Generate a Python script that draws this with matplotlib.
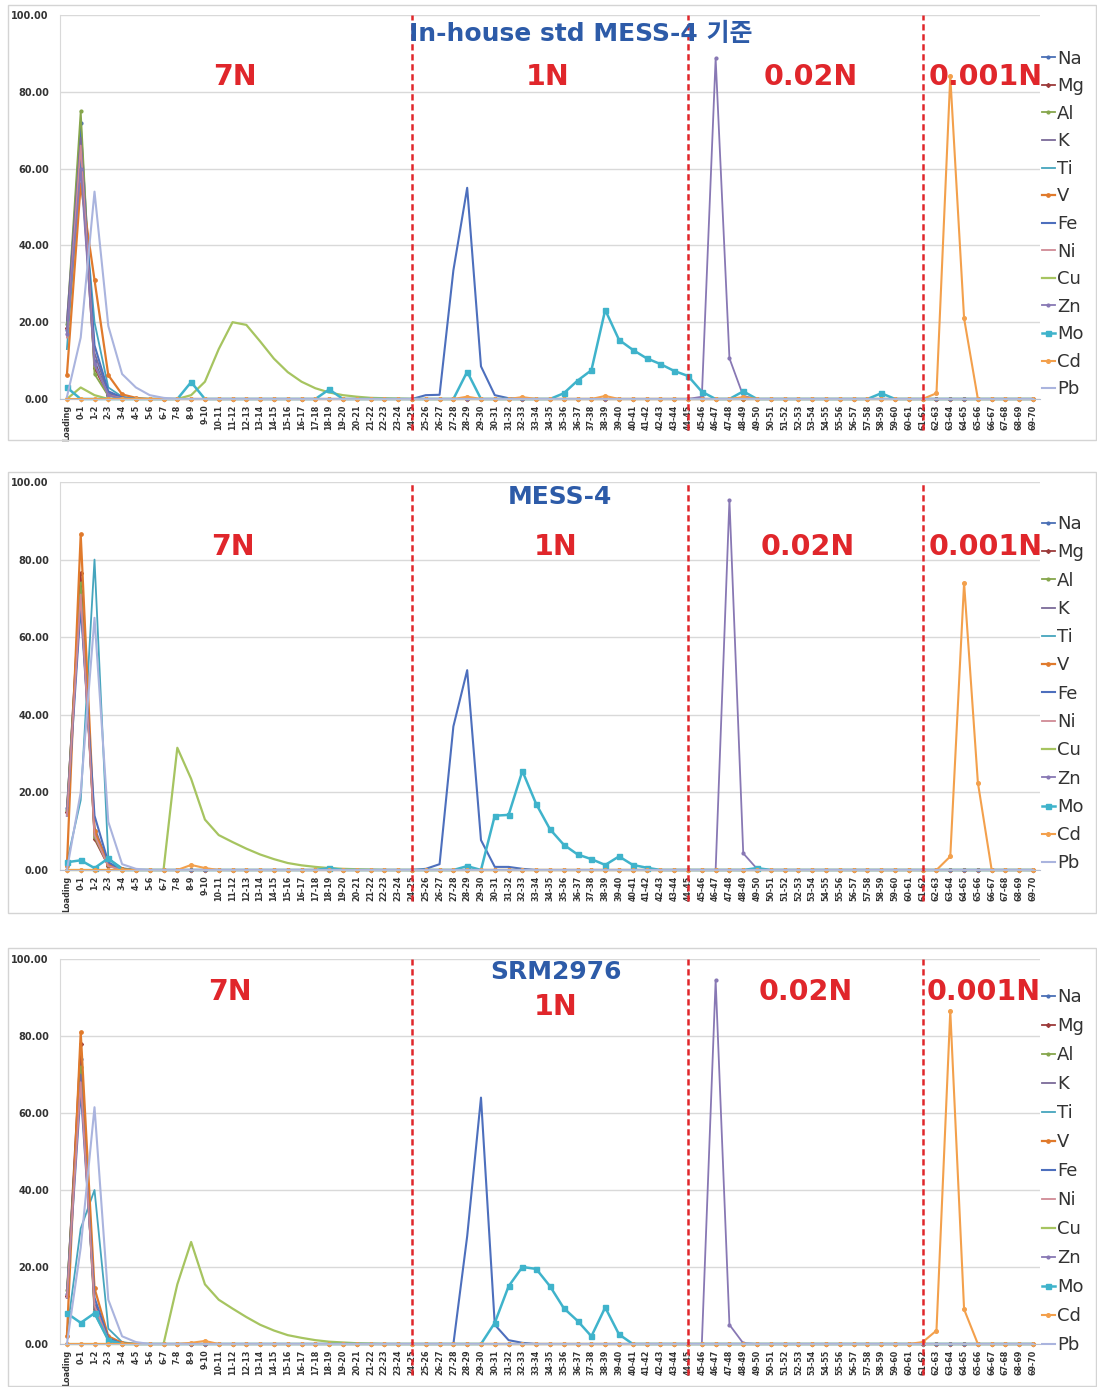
import matplotlib.pyplot as plt
from matplotlib.patches import Rectangle
import numpy as np

CATEGORIES = ['Loading'] + [f'{i}-{i + 1}' for i in range(70)]
ELEMENTS = ['Na', 'Mg', 'Al', 'K', 'Ti', 'V', 'Fe', 'Ni', 'Cu', 'Zn', 'Mo', 'Cd', 'Pb']
STEP_BOUNDS = ['24-25', '44-45', '61-62']
STEP_NAMES = ['7N', '1N', '0.02N', '0.001N']
Y_TICKS = [0, 20, 40, 60, 80, 100]

# values, every category not listed is 0
# --- panel 1: In-house std MESS-4
ih_na = {'Loading': 18, '0-1': 72, '1-2': 10, '2-3': 1.2, '3-4': 0.3}
ih_mg = {'Loading': 18.5, '0-1': 63, '1-2': 8, '2-3': 1, '3-4': 0.2}
ih_al = {'Loading': 19.5, '0-1': 75, '1-2': 6.5, '2-3': 0.8, '3-4': 0.2}
ih_k = {'Loading': 20.5, '0-1': 68, '1-2': 12, '2-3': 1.5, '3-4': 0.3}
ih_ti = {'Loading': 13, '0-1': 61, '1-2': 20, '2-3': 3, '3-4': 0.6}
ih_v = {'Loading': 6.3, '0-1': 56, '1-2': 31, '2-3': 6.2, '3-4': 1.2, '4-5': 0.3}
ih_fe = {'Loading': 17, '0-1': 65, '1-2': 14, '2-3': 2, '3-4': 0.4,
         '25-26': 1, '26-27': 1.1, '27-28': 33.5, '28-29': 55, '29-30': 8.5,
         '30-31': 1, '31-32': 0.2}
ih_ni = {'Loading': 16, '0-1': 66, '1-2': 9, '2-3': 1, '3-4': 0.2}
ih_cu = {'0-1': 3, '1-2': 1, '8-9': 1, '9-10': 4.5, '10-11': 13, '11-12': 20,
         '12-13': 19.3, '13-14': 15, '14-15': 10.5, '15-16': 7, '16-17': 4.5,
         '17-18': 2.8, '18-19': 1.7, '19-20': 1, '20-21': 0.6, '21-22': 0.3,
         '22-23': 0.2, '23-24': 0.1}
ih_zn = {'Loading': 17, '0-1': 60, '1-2': 9, '2-3': 1,
         '45-46': 0.6, '46-47': 88.7, '47-48': 10.6, '48-49': 0.8}
ih_mo = {'Loading': 3, '8-9': 4.4, '18-19': 2.5, '28-29': 7.1, '35-36': 1.5,
         '36-37': 4.8, '37-38': 7.5, '38-39': 23.2, '39-40': 15.4, '40-41': 12.8,
         '41-42': 10.6, '42-43': 9.1, '43-44': 7.3, '44-45': 6, '45-46': 1.9,
         '48-49': 2, '58-59': 1.5}
ih_cd = {'28-29': 0.6, '32-33': 0.5, '38-39': 0.8, '48-49': 0.5,
         '62-63': 1.5, '63-64': 84, '64-65': 21}
ih_pb = {'Loading': 0.5, '0-1': 16, '1-2': 54, '2-3': 19, '3-4': 6.5,
         '4-5': 3, '5-6': 1, '6-7': 0.3}

# --- panel 2: MESS-4
ms_na = {'Loading': 16, '0-1': 72, '1-2': 10, '2-3': 1.5, '3-4': 0.3}
ms_mg = {'Loading': 15, '0-1': 76.5, '1-2': 8, '2-3': 1, '3-4': 0.2}
ms_al = {'Loading': 15.5, '0-1': 74, '1-2': 8.5, '2-3': 1.2}
ms_k = {'Loading': 15, '0-1': 70, '1-2': 11, '2-3': 1.5}
ms_ti = {'Loading': 2, '0-1': 18, '1-2': 80, '2-3': 3, '3-4': 0.5}
ms_v = {'Loading': 1, '0-1': 86.5, '1-2': 10, '2-3': 1.5, '3-4': 0.3}
ms_fe = {'Loading': 14, '0-1': 68, '1-2': 14, '2-3': 2,
         '25-26': 0.3, '26-27': 1.5, '27-28': 37, '28-29': 51.5, '29-30': 7.7,
         '30-31': 0.8, '31-32': 0.8, '32-33': 0.3}
ms_ni = {'Loading': 14, '0-1': 71, '1-2': 9, '2-3': 1}
ms_cu = {'7-8': 31.5, '8-9': 23.5, '9-10': 13, '10-11': 9, '11-12': 7.2,
         '12-13': 5.5, '13-14': 4, '14-15': 2.8, '15-16': 1.8, '16-17': 1.2,
         '17-18': 0.8, '18-19': 0.5, '19-20': 0.3, '20-21': 0.2, '21-22': 0.1}
ms_zn = {'47-48': 95.4, '48-49': 4.3, '49-50': 0.3}
ms_mo = {'Loading': 2, '0-1': 2.5, '1-2': 0.5, '2-3': 3, '18-19': 0.5,
         '28-29': 1, '30-31': 14, '31-32': 14.2, '32-33': 25.5, '33-34': 17,
         '34-35': 10.5, '35-36': 6.5, '36-37': 4, '37-38': 2.8, '38-39': 1.3,
         '39-40': 3.5, '40-41': 1.3, '41-42': 0.6, '49-50': 0.5}
ms_cd = {'8-9': 1.3, '9-10': 0.5, '63-64': 3.5, '64-65': 74, '65-66': 22.5}
ms_pb = {'0-1': 20, '1-2': 65, '2-3': 12.4, '3-4': 1.5, '4-5': 0.3}

# --- panel 3: SRM2976
sr_na = {'Loading': 13, '0-1': 74, '1-2': 10, '2-3': 1.2}
sr_mg = {'Loading': 12.5, '0-1': 78, '1-2': 9, '2-3': 1}
sr_al = {'Loading': 14, '0-1': 72, '1-2': 8, '2-3': 1}
sr_k = {'Loading': 13, '0-1': 70, '1-2': 9, '2-3': 1}
sr_ti = {'Loading': 3, '0-1': 30, '1-2': 40, '2-3': 4, '3-4': 0.5}
sr_v = {'Loading': 2, '0-1': 81, '1-2': 14.5, '2-3': 2, '3-4': 0.3}
sr_fe = {'Loading': 12, '0-1': 66, '1-2': 12, '2-3': 1.5,
         '28-29': 28, '29-30': 64, '30-31': 5, '31-32': 1, '32-33': 0.3}
sr_ni = {'Loading': 12, '0-1': 68, '1-2': 10, '2-3': 1}
sr_cu = {'7-8': 15.5, '8-9': 26.5, '9-10': 15.5, '10-11': 11.5, '11-12': 9.2,
         '12-13': 7, '13-14': 5, '14-15': 3.5, '15-16': 2.3, '16-17': 1.6,
         '17-18': 1, '18-19': 0.6, '19-20': 0.4, '20-21': 0.2, '21-22': 0.1}
sr_zn = {'46-47': 94.5, '47-48': 5, '48-49': 0.2}
sr_mo = {'Loading': 8, '0-1': 5.5, '1-2': 8, '2-3': 1, '30-31': 5.5,
         '31-32': 15, '32-33': 20, '33-34': 19.5, '34-35': 15, '35-36': 9.3,
         '36-37': 6, '37-38': 2, '38-39': 9.5, '39-40': 2.5}
sr_cd = {'8-9': 0.3, '9-10': 0.8, '61-62': 0.5, '62-63': 3.5, '63-64': 86.5,
         '64-65': 9}
sr_pb = {'0-1': 25, '1-2': 61.5, '2-3': 11.5, '3-4': 2, '4-5': 0.5}

PANELS = [
    ('In-house std MESS-4 기준',
     [ih_na, ih_mg, ih_al, ih_k, ih_ti, ih_v, ih_fe, ih_ni, ih_cu, ih_zn, ih_mo, ih_cd, ih_pb]),
    ('MESS-4',
     [ms_na, ms_mg, ms_al, ms_k, ms_ti, ms_v, ms_fe, ms_ni, ms_cu, ms_zn, ms_mo, ms_cd, ms_pb]),
    ('SRM2976',
     [sr_na, sr_mg, sr_al, sr_k, sr_ti, sr_v, sr_fe, sr_ni, sr_cu, sr_zn, sr_mo, sr_cd, sr_pb]),
]

# element styles: colour, marker, marker size, line width
STYLES = {
    'Na': ('#4a6fb5', 'o', 2.0, 1.3),
    'Mg': ('#9c3a3a', 'D', 2.0, 1.3),
    'Al': ('#86a64c', 'o', 2.0, 1.3),
    'K': ('#7b6a98', None, 0, 1.3),
    'Ti': ('#45a5bd', None, 0, 1.3),
    'V': ('#e07a2c', 'o', 2.4, 1.6),
    'Fe': ('#4d6fbd', None, 0, 1.5),
    'Ni': ('#d08a95', None, 0, 1.3),
    'Cu': ('#a6c460', None, 0, 1.6),
    'Zn': ('#8878b4', 'o', 2.0, 1.3),
    'Mo': ('#3fb3cb', 's', 3.6, 1.8),
    'Cd': ('#f3a04c', 'o', 2.6, 1.5),
    'Pb': ('#aab4de', None, 0, 1.5),
}

RED = '#e0262b'
TITLE_BLUE = '#2d5ba8'
X_IDX = np.arange(len(CATEGORIES))


def full_series(points):
    y = np.zeros(len(CATEGORIES))
    for cat, v in points.items():
        y[CATEGORIES.index(cat)] = v
    return y


W, H = 1097, 1387
fig = plt.figure(figsize=(W / 100, H / 100), dpi=100)

# plot-area pixel boxes (y of value 100, y of value 0) and outer frames
plot_px = [(15, 399), (482, 870), (959, 1344)]
frame_px = [(5, 440), (472, 913), (948, 1386)]
legend_top = [0.91, 0.915, 0.925]
legend_gap = [0.53, 0.57, 0.61]
text_y = [(83.9, 83.9, 83.9, 83.9), (83.2, 83.2, 83.2, 83.2), (91.4, 87.5, 91.4, 91.4)]
title_xy = [(37.2, 95.0), (35.7, 96.1), (35.4, 96.6)]
step_x = [(12.2, 34.8, 53.9, 66.6), (12.0, 35.4, 53.7, 66.6), (11.8, 35.4, 53.5, 66.4)]

for p, (title, data) in enumerate(PANELS):
    top, bot = plot_px[p]
    f0, f1 = frame_px[p]
    fig.patches.append(Rectangle((8 / W, 1 - f1 / H), 1088 / W, (f1 - f0) / H,
                                 transform=fig.transFigure, fill=False,
                                 edgecolor='#d4d4d4', lw=1.0))
    ax = fig.add_axes([60 / W, 1 - bot / H, 980 / W, (bot - top) / H])

    for el, pts in zip(ELEMENTS, data):
        c, m, ms, lw = STYLES[el]
        y = full_series(pts)
        # Mo squares only show where there is a signal
        every = list(np.nonzero(y)[0]) if el == 'Mo' else None
        ax.plot(X_IDX, y, color=c, marker=m, markersize=ms, markevery=every,
                lw=lw, label=el, clip_on=False)

    for b in STEP_BOUNDS:
        ax.axvline(CATEGORIES.index(b), ymin=-0.08, ymax=1.0, color=RED, lw=1.8,
                   ls=(0, (2.5, 1.5)), clip_on=False, zorder=5)

    for name, x, y in zip(STEP_NAMES, step_x[p], text_y[p]):
        ax.text(x, y, name, color=RED, fontsize=20.5, fontweight='bold',
                ha='center', va='center', zorder=6)

    tx, ty = title_xy[p]
    ax.text(tx, ty, title, color=TITLE_BLUE, fontsize=18, fontweight='bold',
            ha='center', va='center', family=['DejaVu Sans', 'Noto Sans CJK KR'],
            zorder=6)

    ax.set_xlim(-0.5, len(CATEGORIES) - 0.5)
    ax.set_ylim(0, 100)
    ax.set_yticks(Y_TICKS)
    ax.set_yticklabels([f'{v:.2f}' for v in Y_TICKS], fontsize=7, fontweight='bold',
                       color='#333333')
    ax.set_xticks(X_IDX)
    ax.set_xticklabels(CATEGORIES, rotation=90, fontsize=5.8, fontweight='bold',
                       color='#333333')
    ax.tick_params(axis='y', length=0, pad=8)
    ax.tick_params(axis='x', length=2, color='#b8c0d0', pad=2)
    ax.grid(axis='y', color='#d9d9d9', lw=1.0)
    ax.set_axisbelow(True)
    for s in ['top', 'right']:
        ax.spines[s].set_visible(False)
    ax.spines['left'].set_color('#d9d9d9')
    ax.spines['bottom'].set_color('#b8c0d0')

    leg = ax.legend(loc='upper left', bbox_to_anchor=(1.002, legend_top[p]),
                    frameon=False, fontsize=13, handlelength=0.7,
                    handletextpad=0.15, labelspacing=legend_gap[p], borderpad=0,
                    borderaxespad=0, markerscale=1.0)
    for t in leg.get_texts():
        t.set_color('#333333')

fig.savefig('out.png', dpi=100, facecolor='white')
